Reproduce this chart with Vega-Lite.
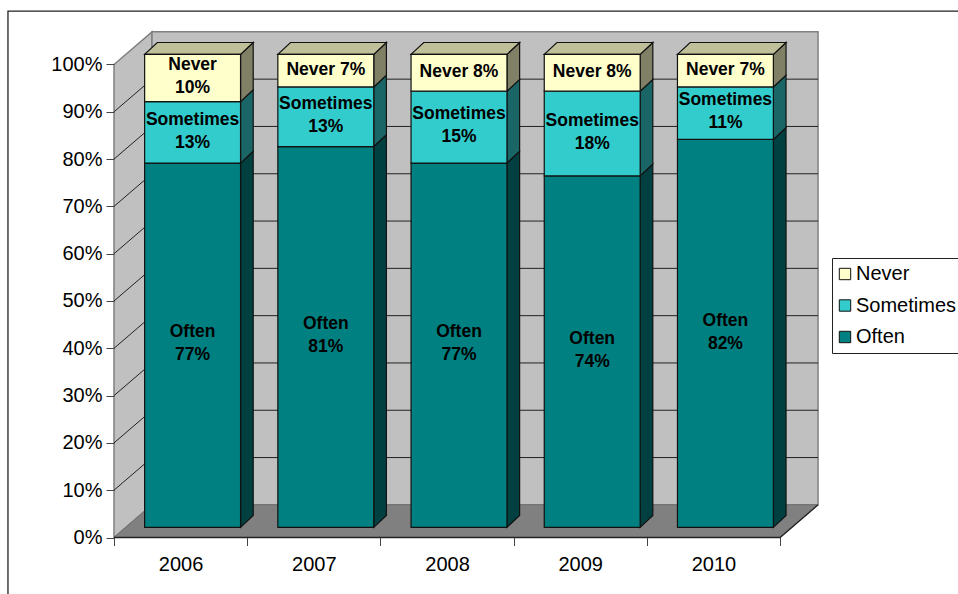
{
"$schema":"https://vega.github.io/schema/vega-lite/v6.json",
"width":704,"height":505.5,
"autosize":{"type":"none"},
"padding":{"left":114,"top":32,"right":140,"bottom":56.5},
"background":"white",
"config":{"view":{"stroke":null},"font":"Liberation Sans"},
"data":{"values":[
{"year":2006,"series":"Often","rank":1,"value":77,"label":"Often\n77%"},
{"year":2006,"series":"Sometimes","rank":2,"value":13,"label":"Sometimes\n13%"},
{"year":2006,"series":"Never","rank":3,"value":10,"label":"Never\n10%"},
{"year":2007,"series":"Often","rank":1,"value":80.5,"label":"Often\n81%"},
{"year":2007,"series":"Sometimes","rank":2,"value":12.6,"label":"Sometimes\n13%"},
{"year":2007,"series":"Never","rank":3,"value":6.9,"label":"Never 7%"},
{"year":2008,"series":"Often","rank":1,"value":77,"label":"Often\n77%"},
{"year":2008,"series":"Sometimes","rank":2,"value":15.2,"label":"Sometimes\n15%"},
{"year":2008,"series":"Never","rank":3,"value":7.8,"label":"Never 8%"},
{"year":2009,"series":"Often","rank":1,"value":74.3,"label":"Often\n74%"},
{"year":2009,"series":"Sometimes","rank":2,"value":17.9,"label":"Sometimes\n18%"},
{"year":2009,"series":"Never","rank":3,"value":7.8,"label":"Never 8%"},
{"year":2010,"series":"Often","rank":1,"value":82,"label":"Often\n82%"},
{"year":2010,"series":"Sometimes","rank":2,"value":11.1,"label":"Sometimes\n11%"},
{"year":2010,"series":"Never","rank":3,"value":6.9,"label":"Never 7%"}
]},
"transform":[
{"stack":"value","groupby":["year"],"sort":[{"field":"rank","order":"ascending"}],"as":["lo","hi"]},
{"calculate":"datum.year-2006+0.23","as":"xl"},
{"calculate":"datum.year-2006+0.95","as":"xr"},
{"calculate":"datum.lo+2.15","as":"ylo"},
{"calculate":"datum.hi+2.15","as":"yhi"}
],
"layer":[
{"data":{"values":[{"frame":"chart area"}]},
 "mark":{"type":"rect","fill":null,"stroke":"#222222","strokeWidth":1.3},
 "encoding":{
  "x":{"datum":-0.796,"type":"quantitative","scale":{"domain":[0,5.285],"nice":false,"zero":false},
   "axis":{"title":null,"values":[0,0.5,1,1.5,2,2.5,3,3.5,4,4.5,5],"grid":false,"domain":false,"tickSize":8,"tickColor":"#444444","tickOpacity":{"expr":"datum.value%1==0?1:0"},"labelExpr":"datum.value%1==0?'':''+(2006+floor(datum.value))","labelFontSize":20,"labelFont":"Liberation Sans","labelColor":"#000000","labelPadding":9,"labelAngle":0,"labelOverlap":false,"labelFlush":false,"zindex":1}},
  "x2":{"datum":7},
  "y":{"datum":111.3,"type":"quantitative","scale":{"domain":[0,106.87],"nice":false,"zero":false},
   "axis":{"title":null,"values":[0,10,20,30,40,50,60,70,80,90,100],"grid":false,"domain":false,"tickSize":8,"tickColor":"#444444","labelExpr":"datum.value+'%'","labelFontSize":20,"labelFont":"Liberation Sans","labelColor":"#000000","labelPadding":4,"labelFlush":false,"labelOverlap":false,"zindex":1}},
  "y2":{"datum":-20}
 }},
{"data":{"values":[{"wall":"left"}]},
 "transform":[{"calculate":"[0,1]","as":"t"},{"flatten":["t"]},{"calculate":"datum.t*0.2853","as":"px"},{"calculate":"datum.t*6.9","as":"a"},{"calculate":"100+datum.t*6.9","as":"b"}],
 "mark":{"type":"area","orient":"vertical","fill":"#c0c0c0","stroke":"#808080","strokeWidth":1.5},
 "encoding":{"x":{"field":"px","type":"quantitative","scale":{"domain":[0,5.285],"nice":false,"zero":false}},
  "y":{"field":"a","type":"quantitative","stack":null,"scale":{"domain":[0,106.87],"nice":false,"zero":false}},"y2":{"field":"b"}}},
{"data":{"values":[{"wall":"back"}]},
 "mark":{"type":"rect","fill":"#c0c0c0","stroke":"#808080","strokeWidth":1.5},
 "encoding":{"x":{"datum":0.2853,"type":"quantitative","scale":{"domain":[0,5.285],"nice":false,"zero":false}},"x2":{"datum":5.2853},
  "y":{"datum":6.9,"type":"quantitative","scale":{"domain":[0,106.87],"nice":false,"zero":false}},"y2":{"datum":106.9}}},
{"data":{"values":[{"v":10},{"v":20},{"v":30},{"v":40},{"v":50},{"v":60},{"v":70},{"v":80},{"v":90}]},
 "transform":[{"calculate":"[0,1,2]","as":"t"},{"flatten":["t"]},{"calculate":"[0,0.2853,5.2853][datum.t]","as":"px"},{"calculate":"datum.v+[0,6.9,6.9][datum.t]","as":"py"}],
 "mark":{"type":"line","color":"#222222","strokeWidth":1},
 "encoding":{"x":{"field":"px","type":"quantitative","scale":{"domain":[0,5.285],"nice":false,"zero":false}},
  "y":{"field":"py","type":"quantitative","scale":{"domain":[0,106.87],"nice":false,"zero":false}},"detail":{"field":"v"}}},
{"data":{"values":[{"wall":"floor"}]},
 "transform":[{"calculate":"[0,1,2,3]","as":"t"},{"flatten":["t"]},{"calculate":"[0,0.2853,5,5.2853][datum.t]","as":"px"},{"calculate":"[0,0,0,6.9][datum.t]","as":"a"},{"calculate":"[0,6.9,6.9,6.9][datum.t]","as":"b"}],
 "mark":{"type":"area","orient":"vertical","fill":"#808080","stroke":"#707070","strokeWidth":1},
 "encoding":{"x":{"field":"px","type":"quantitative","scale":{"domain":[0,5.285],"nice":false,"zero":false}},
  "y":{"field":"a","type":"quantitative","stack":null,"scale":{"domain":[0,106.87],"nice":false,"zero":false}},"y2":{"field":"b"}}},
{"data":{"values":[{"edge":"front","t":0,"px":0,"py":0},{"edge":"front","t":1,"px":5,"py":0},{"edge":"front","t":2,"px":5.2853,"py":6.9}]},
 "mark":{"type":"line","color":"#222222","strokeWidth":1.3},
 "encoding":{"x":{"field":"px","type":"quantitative","scale":{"domain":[0,5.285],"nice":false,"zero":false}},
  "y":{"field":"py","type":"quantitative","scale":{"domain":[0,106.87],"nice":false,"zero":false}}}},
{"transform":[{"calculate":"[0,1]","as":"t"},{"flatten":["t"]},{"calculate":"datum.xr+datum.t*0.095","as":"px"},{"calculate":"datum.ylo+datum.t*2.5","as":"a"},{"calculate":"datum.yhi+datum.t*2.5","as":"b"}],
 "mark":{"type":"area","orient":"vertical","stroke":"#111111","strokeWidth":1.2},
 "encoding":{"x":{"field":"px","type":"quantitative","scale":{"domain":[0,5.285],"nice":false,"zero":false}},
  "y":{"field":"a","type":"quantitative","stack":null,"scale":{"domain":[0,106.87],"nice":false,"zero":false}},"y2":{"field":"b"},
  "fill":{"field":"series","type":"nominal","scale":{"domain":["Often","Sometimes","Never"],"range":["#004040","#1a6666","#808066"]},"legend":null},
  "detail":{"field":"year"}}},
{"transform":[{"filter":"datum.series=='Never'"},{"calculate":"[0,1,2,3]","as":"t"},{"flatten":["t"]},{"calculate":"[datum.xl,datum.xl+0.095,datum.xr,datum.xr+0.095][datum.t]","as":"px"},{"calculate":"[datum.yhi,datum.yhi,datum.yhi,datum.yhi+2.5][datum.t]","as":"a"},{"calculate":"[datum.yhi,datum.yhi+2.5,datum.yhi+2.5,datum.yhi+2.5][datum.t]","as":"b"}],
 "mark":{"type":"area","orient":"vertical","fill":"#bfbf99","stroke":"#111111","strokeWidth":1.2},
 "encoding":{"x":{"field":"px","type":"quantitative","scale":{"domain":[0,5.285],"nice":false,"zero":false}},
  "y":{"field":"a","type":"quantitative","stack":null,"scale":{"domain":[0,106.87],"nice":false,"zero":false}},"y2":{"field":"b"},
  "detail":{"field":"year"}}},
{"mark":{"type":"rect","stroke":"#111111","strokeWidth":1.2},
 "encoding":{"x":{"field":"xl","type":"quantitative","scale":{"domain":[0,5.285],"nice":false,"zero":false}},"x2":{"field":"xr"},
  "y":{"field":"ylo","type":"quantitative","scale":{"domain":[0,106.87],"nice":false,"zero":false}},"y2":{"field":"yhi"},
  "color":{"field":"series","type":"nominal","sort":["Never","Sometimes","Often"],
   "scale":{"domain":["Never","Sometimes","Often"],"range":["#ffffcc","#33cccc","#008080"]},
   "legend":{"title":null,"orient":"none","legendX":718,"legendY":226,"fillColor":"#ffffff","strokeColor":"#222222","padding":6,"symbolType":"square","symbolSize":130,"symbolOffset":-3,"symbolStrokeColor":"#111111","symbolStrokeWidth":1,"labelFontSize":20,"labelFont":"Liberation Sans","labelColor":"#000000","labelOffset":1,"rowPadding":11.5,"labelLimit":200}}}},
{"transform":[{"calculate":"(datum.xl+datum.xr)/2","as":"cx"},{"calculate":"(datum.ylo+datum.yhi)/2+(indexof(datum.label,'\\n')>=0?2.5:0)","as":"cy"}],
 "mark":{"type":"text","font":"Liberation Sans","fontWeight":"bold","fontSize":17.5,"color":"#000000","lineBreak":"\n","lineHeight":23,"baseline":"middle","align":"center","dy":-1},
 "encoding":{"x":{"field":"cx","type":"quantitative","scale":{"domain":[0,5.285],"nice":false,"zero":false}},
  "y":{"field":"cy","type":"quantitative","scale":{"domain":[0,106.87],"nice":false,"zero":false}},
  "text":{"field":"label"}}}
]
}
